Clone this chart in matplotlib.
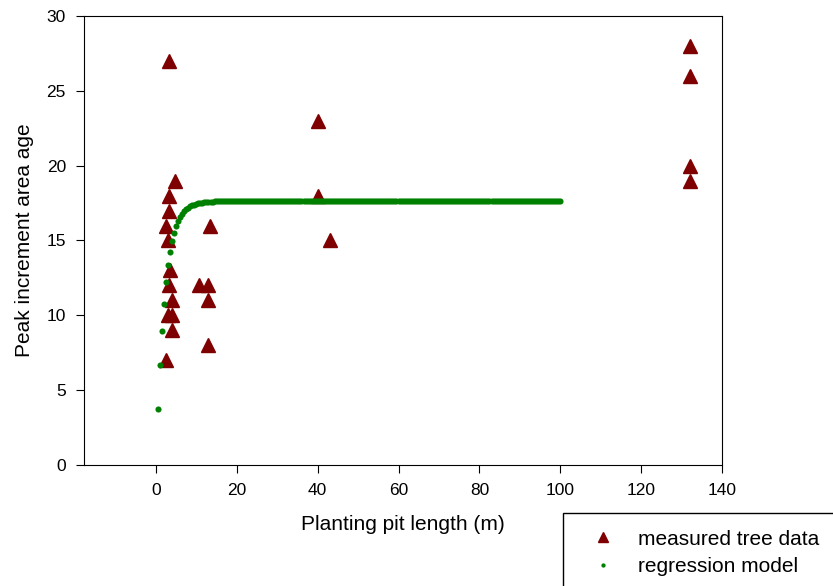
import numpy as np
import matplotlib.pyplot as plt
from matplotlib.patches import Rectangle

plt.rcParams['font.family'] = ['Liberation Sans', 'DejaVu Sans']

# measured tree data
tree_x = [3.3, 4.6, 3.3, 3.3, 2.5, 13.4, 3.0, 3.5, 3.3, 10.6, 12.9, 4.0, 12.9,
          3.0, 4.0, 3.9, 2.5, 12.9, 40, 40, 43, 132, 132, 132, 132]
tree_y = [27, 19, 18, 17, 16, 16, 15, 13, 12, 12, 12, 11, 11,
          10, 10, 9, 7, 8, 23, 18, 15, 28, 26, 20, 19]

# regression model, evaluated every 0.5 m up to 100 m
model_x = np.arange(0.5, 100.01, 0.5)
rising = [3.72, 6.66, 8.97, 10.78, 12.2, 13.36, 14.25, 14.94, 15.5, 15.94,
          16.3, 16.58, 16.8, 16.97, 17.1, 17.2, 17.28, 17.35, 17.4, 17.44,
          17.48, 17.51, 17.53, 17.55, 17.57, 17.58, 17.59, 17.6]
model_y = rising + [17.62] * (len(model_x) - len(rising))

fig = plt.figure(figsize=(8.33, 5.86), dpi=100)
ax = fig.add_axes([0.1008, 0.2065, 0.7659, 0.7662])

ax.plot(tree_x, tree_y, '^', color='#7f0000', ms=9.5, ls='none',
        label='measured tree data')
ax.plot(model_x, model_y, 'o', color='#008000', ms=4.4, mew=0, ls='none',
        label='regression model')

ax.set_xlim(-17.8, 140)
ax.set_ylim(0, 30)
ax.set_xticks(range(0, 141, 20))
ax.set_yticks(range(0, 31, 5))
ax.tick_params(direction='out', length=6, labelsize=12.5, pad=7)
ax.set_xlabel('Planting pit length (m)', fontsize=15, labelpad=12)
ax.set_ylabel('Peak increment area age', fontsize=15, labelpad=9)

# legend box runs off the right and bottom edges of the figure
fig.patches.append(Rectangle((0.676, -0.2), 0.5, 0.3246, transform=fig.transFigure,
                             facecolor='white', edgecolor='black', lw=1.0))
leg = fig.legend(loc='upper left', bbox_to_anchor=(0.676, 0.1246),
                 fontsize=15, frameon=False,
                 handlelength=2.2, handletextpad=0.6, borderpad=0.8,
                 borderaxespad=0, labelspacing=0.42, markerscale=0.7)

fig.savefig('out.png', dpi=100)
